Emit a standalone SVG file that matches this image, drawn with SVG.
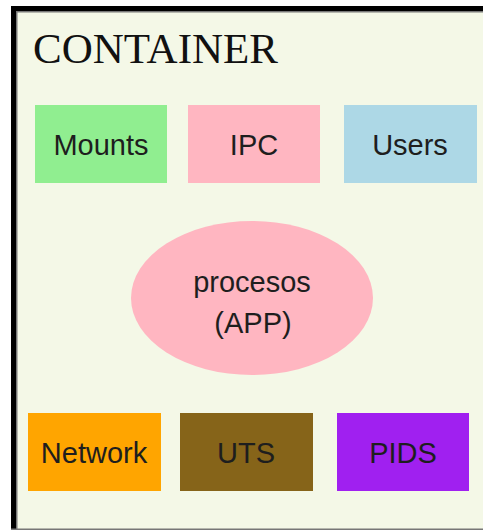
<svg xmlns="http://www.w3.org/2000/svg" width="483" height="531" viewBox="0 0 483 531">
  <style>
    .lbl { font-family: "Liberation Sans", Arial, sans-serif; font-size: 29px; fill: #1e1e1e; text-anchor: middle; }
    .title { font-family: "Liberation Serif", "Times New Roman", serif; font-size: 43px; fill: #111; }
  </style>
  <rect x="0" y="0" width="483" height="531" fill="#ffffff"/>
  <!-- container frame -->
  <g id="container">
    <rect x="14" y="9" width="469" height="520" fill="#f4f8e7"/>
    <rect x="11" y="6" width="472" height="5" fill="#000"/>
    <rect x="11" y="11" width="472" height="1.5" fill="#777"/>
    <rect x="11" y="6" width="5" height="524" fill="#000"/>
    <rect x="16" y="11" width="1.5" height="518" fill="#777"/>
    <rect x="11" y="528.5" width="472" height="1.5" fill="#777"/>
    <text class="title" x="33" y="63">CONTAINER</text>
  </g>
  <g id="mounts">
    <rect x="35" y="105" width="132" height="78" fill="#90ee90"/>
    <text class="lbl" x="101" y="155">Mounts</text>
  </g>
  <g id="ipc">
    <rect x="188" y="105" width="132" height="78" fill="#ffb6c1"/>
    <text class="lbl" x="254" y="155">IPC</text>
  </g>
  <g id="users">
    <rect x="344" y="105" width="133" height="78" fill="#add8e6"/>
    <text class="lbl" x="410" y="155">Users</text>
  </g>
  <g id="procesos">
    <ellipse cx="252" cy="298" rx="121" ry="77" fill="#ffb6c1"/>
    <text class="lbl" x="252" y="292">procesos</text>
    <text class="lbl" x="253" y="333">(APP)</text>
  </g>
  <g id="network">
    <rect x="28" y="413" width="133" height="78" fill="#ffa500"/>
    <text class="lbl" x="94" y="463">Network</text>
  </g>
  <g id="uts">
    <rect x="180" y="413" width="133" height="78" fill="#866419"/>
    <text class="lbl" x="246" y="463">UTS</text>
  </g>
  <g id="pids">
    <rect x="337" y="413" width="132" height="78" fill="#a020f0"/>
    <text class="lbl" x="403" y="463">PIDS</text>
  </g>
  <g id="connectors"/>
</svg>
